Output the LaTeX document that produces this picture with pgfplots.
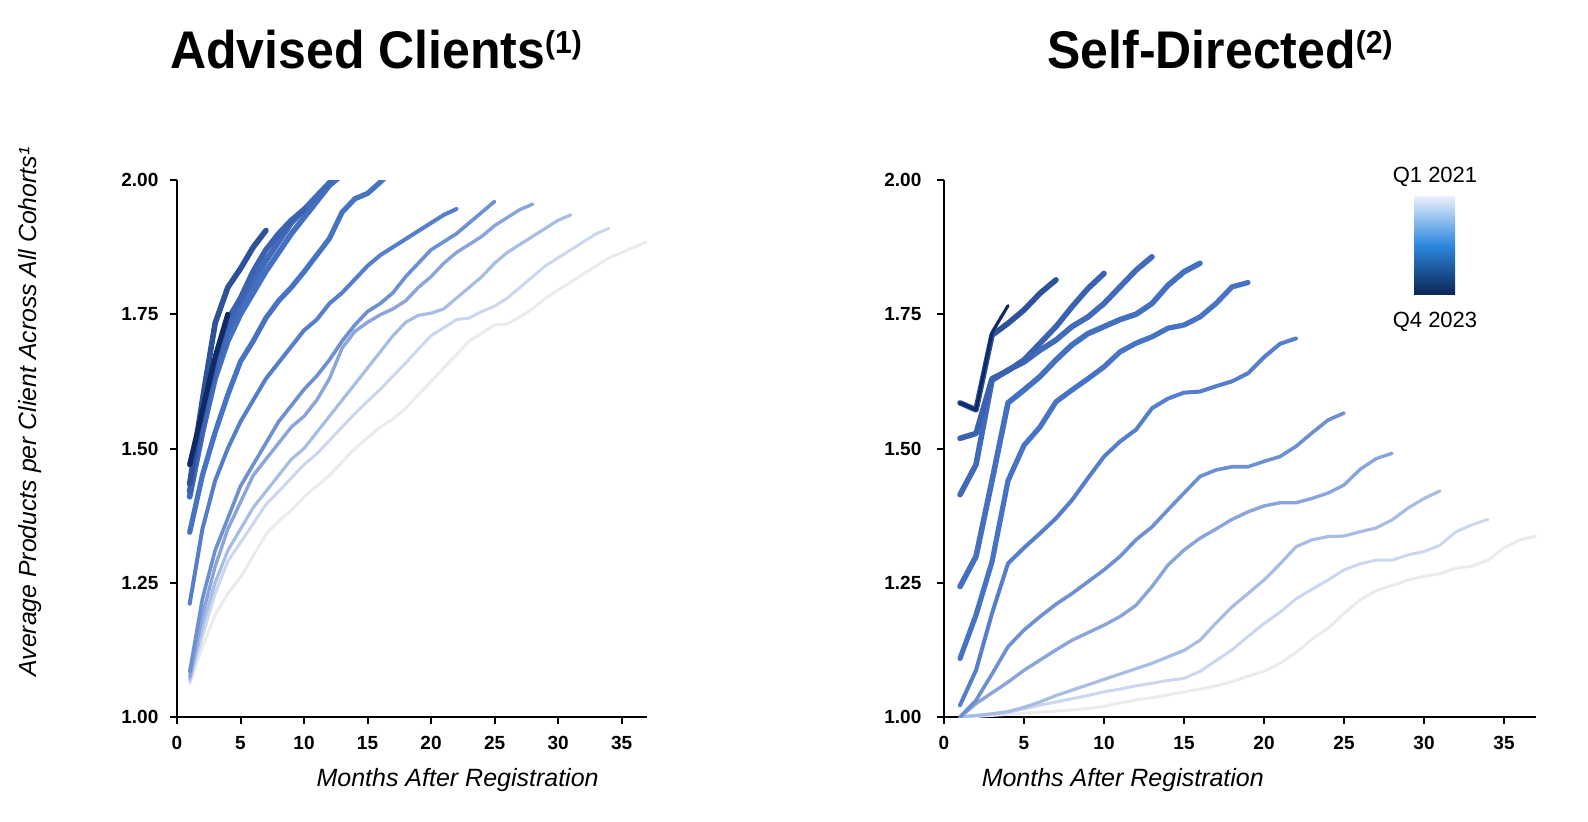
\documentclass[border=0pt]{standalone}
\usepackage{pgfplots}
\pgfplotsset{compat=1.18}
\usepackage{pgfplotstable}
\usepackage{fontspec}
\setmainfont{Liberation Sans}

% cohort colours, Q1 2021 (light) ... Q4 2023 (dark)
\definecolor{c1}{HTML}{EBEBEB}
\definecolor{c2}{HTML}{CAD7EE}
\definecolor{c3}{HTML}{A7BDE4}
\definecolor{c4}{HTML}{89A5DA}
\definecolor{c5}{HTML}{6D90D3}
\definecolor{c6}{HTML}{557ECB}
\definecolor{c7}{HTML}{4673C4}
\definecolor{c8}{HTML}{4470C1}
\definecolor{c9}{HTML}{416ABA}
\definecolor{c10}{HTML}{3B62B0}
\definecolor{c11}{HTML}{2E5299}
\definecolor{c12}{HTML}{0F2A66}
\definecolor{barTop}{HTML}{EAF1FB}
\definecolor{barMid}{HTML}{2D88DE}
\definecolor{barBot}{HTML}{0C2656}

% advised clients, one column per cohort
\pgfplotstableread{
m  c1    c2    c3    c4    c5    c6    c7    c8   c9    c10   c11   c12
1  1.062 1.065 1.07  1.075 1.084 1.211 1.344 1.42 1.41  1.42  1.434 1.47
2  1.13  1.15  1.17  1.19  1.22  1.35  1.45  1.53 1.53  1.55  1.59  1.57
3  1.19  1.23  1.25  1.28  1.31  1.44  1.53  1.63 1.64  1.66  1.733 1.67
4  1.23  1.29  1.31  1.35  1.37  1.50  1.60  1.70 1.72  1.74  1.80  1.75
5  1.26  1.325 1.35  1.40  1.43  1.55  1.662 1.75 1.77  1.78  1.835 nan
6  1.30  1.36  1.39  1.45  1.47  1.59  1.70  1.79 1.81  1.83  1.875 nan
7  1.34  1.396 1.42  1.48  1.51  1.63  1.743 1.83 1.85  1.87  1.906 nan
8  1.365 1.42  1.45  1.51  1.55  1.66  1.775 1.865 1.885 1.90 nan nan
9  1.385 1.445 1.48  1.54  1.58  1.69  1.80  1.90 1.92  1.925 nan  nan
10 1.41  1.47  1.50  1.56  1.61  1.72  1.829 1.93 1.945 1.945 nan  nan
11 1.43  1.49  1.53  1.59  1.635 1.74  1.86  1.96 1.97  nan   nan   nan
12 1.45  1.515 1.56  1.63  1.665 1.77  1.891 1.99 1.995 nan   nan   nan
13 1.475 1.54  1.59  1.687 1.70  1.79  1.94  2.01 2.02  nan   nan   nan
14 1.50  1.565 1.62  1.718 1.73  1.815 1.965 2.03 nan  nan   nan   nan
15 1.52  1.588 1.65  1.735 1.755 1.84  1.975 2.05 nan  nan   nan   nan
16 1.54  1.61  1.68  1.749 1.77  1.86  1.996 2.07 nan  nan   nan   nan
17 1.555 1.635 1.71  1.76  1.79  1.875 2.02  nan  nan  nan   nan   nan
18 1.575 1.659 1.735 1.775 1.82  1.89  2.04  nan  nan  nan   nan   nan
19 1.60  1.685 1.748 1.80  1.845 1.905 2.06  nan  nan  nan   nan   nan
20 1.625 1.71  1.752 1.82  1.87  1.92  nan   nan  nan  nan   nan   nan
21 1.65  1.725 1.76  1.845 1.885 1.935 nan   nan  nan  nan   nan   nan
22 1.675 1.74  1.78  1.865 1.90  1.946 nan   nan  nan  nan   nan   nan
23 1.70  1.743 1.80  1.88  1.92  nan   nan   nan  nan  nan   nan   nan
24 1.715 1.755 1.82  1.895 1.94  nan   nan   nan  nan  nan   nan   nan
25 1.73  1.765 1.845 1.915 1.96  nan   nan   nan  nan  nan   nan   nan
26 1.732 1.78  1.865 1.93  nan   nan   nan   nan  nan  nan   nan   nan
27 1.745 1.80  1.88  1.945 nan   nan   nan   nan  nan  nan   nan   nan
28 1.76  1.82  1.895 1.955 nan   nan   nan   nan  nan  nan   nan   nan
29 1.78  1.84  1.91  nan   nan   nan   nan   nan  nan  nan   nan   nan
30 1.795 1.855 1.925 nan   nan   nan   nan   nan  nan  nan   nan   nan
31 1.81  1.87  1.935 nan   nan   nan   nan   nan  nan  nan   nan   nan
32 1.825 1.885 nan   nan   nan   nan   nan   nan  nan  nan   nan   nan
33 1.84  1.90  nan   nan   nan   nan   nan   nan  nan  nan   nan   nan
34 1.855 1.91  nan   nan   nan   nan   nan   nan  nan  nan   nan   nan
35 1.865 nan   nan   nan   nan   nan   nan   nan  nan  nan   nan   nan
36 1.875 nan   nan   nan   nan   nan   nan   nan  nan  nan   nan   nan
37 1.885 nan   nan   nan   nan   nan   nan   nan  nan  nan   nan   nan
}\advised

% self-directed
\pgfplotstableread{
m  c1    c2    c3    c4    c5    c6    c7    c8    c9    c10   c11   c12
1  1.0   1.0   1.0   1.0   1.0   1.022 1.109 1.243 1.414 1.519 1.585 1.585
2  1.001 1.002 1.003 1.025 1.031 1.087 1.19  1.299 1.47  1.528 1.572 1.572
3  1.003 1.005 1.006 1.045 1.08  1.193 1.289 1.44  1.627 1.63  1.711 1.716
4  1.005 1.009 1.01  1.065 1.131 1.286 1.44  1.585 1.646 1.645 1.733 1.766
5  1.007 1.015 1.018 1.087 1.162 1.315 1.506 1.609 1.661 1.665 1.758 nan
6  1.009 1.022 1.028 1.106 1.187 1.342 1.54  1.634 1.683 1.696 1.789 nan
7  1.011 1.028 1.04  1.125 1.21  1.37  1.587 1.665 1.702 1.727 1.814 nan
8  1.013 1.034 1.05  1.143 1.23  1.404 1.609 1.693 1.727 1.764 nan   nan
9  1.016 1.04  1.06  1.157 1.252 1.445 1.63  1.714 1.745 1.798 nan   nan
10 1.02  1.047 1.07  1.171 1.274 1.485 1.652 1.727 1.77  1.826 nan   nan
11 1.026 1.052 1.08  1.187 1.299 1.513 1.68  1.74  1.801 nan   nan   nan
12 1.032 1.058 1.09  1.208 1.33  1.535 1.696 1.75  1.832 nan   nan   nan
13 1.036 1.063 1.10  1.243 1.354 1.575 1.708 1.77  1.857 nan   nan   nan
14 1.041 1.068 1.112 1.283 1.386 1.593 1.724 1.804 nan   nan   nan   nan
15 1.047 1.072 1.124 1.311 1.417 1.604 1.73  1.829 nan   nan   nan   nan
16 1.052 1.085 1.143 1.333 1.448 1.606 1.745 1.845 nan   nan   nan   nan
17 1.058 1.105 1.175 1.35  1.46  1.616 1.77  nan   nan   nan   nan   nan
18 1.066 1.125 1.205 1.368 1.466 1.625 1.801 nan   nan   nan   nan   nan
19 1.076 1.15  1.23  1.382 1.466 1.64  1.809 nan   nan   nan   nan   nan
20 1.085 1.174 1.255 1.393 1.476 1.67  nan   nan   nan   nan   nan   nan
21 1.10  1.195 1.285 1.399 1.485 1.695 nan   nan   nan   nan   nan   nan
22 1.12  1.22  1.317 1.399 1.504 1.705 nan   nan   nan   nan   nan   nan
23 1.145 1.238 1.33  1.407 1.529 nan   nan   nan   nan   nan   nan   nan
24 1.165 1.255 1.336 1.417 1.553 nan   nan   nan   nan   nan   nan   nan
25 1.193 1.274 1.337 1.432 1.566 nan   nan   nan   nan   nan   nan   nan
26 1.218 1.285 1.345 1.461 nan   nan   nan   nan   nan   nan   nan   nan
27 1.235 1.292 1.352 1.481 nan   nan   nan   nan   nan   nan   nan   nan
28 1.245 1.292 1.367 1.491 nan   nan   nan   nan   nan   nan   nan   nan
29 1.255 1.302 1.389 nan   nan   nan   nan   nan   nan   nan   nan   nan
30 1.262 1.308 1.407 nan   nan   nan   nan   nan   nan   nan   nan   nan
31 1.267 1.32  1.421 nan   nan   nan   nan   nan   nan   nan   nan   nan
32 1.277 1.345 nan   nan   nan   nan   nan   nan   nan   nan   nan   nan
33 1.281 1.358 nan   nan   nan   nan   nan   nan   nan   nan   nan   nan
34 1.292 1.368 nan   nan   nan   nan   nan   nan   nan   nan   nan   nan
35 1.315 nan   nan   nan   nan   nan   nan   nan   nan   nan   nan   nan
36 1.33  nan   nan   nan   nan   nan   nan   nan   nan   nan   nan   nan
37 1.337 nan   nan   nan   nan   nan   nan   nan   nan   nan   nan   nan
}\selfdir

\pgfplotsset{
  ln/.style={line join=round, line cap=round},
  s1/.style={ln, c1, line width=1.5pt},
  s2/.style={ln, c2, line width=1.5pt},
  s3/.style={ln, c3, line width=1.6pt},
  s4/.style={ln, c4, line width=1.7pt},
  s5/.style={ln, c5, line width=1.8pt},
  s6/.style={ln, c6, line width=2.0pt},
  s7/.style={ln, c7, line width=2.6pt},
  s8/.style={ln, c8, line width=2.8pt},
  s9/.style={ln, c9, line width=2.8pt},
  s10/.style={ln, c10, line width=2.8pt},
  s11/.style={ln, c11, line width=2.8pt},
  s12/.style={ln, c12, line width=2.6pt},
  panel/.style={
    scale only axis,
    height=268.5pt,
    xmin=0, xmax=37, ymin=1, ymax=2,
    axis lines=left,
    axis line style={-, line width=1.1pt, black},
    xtick={0,5,...,35},
    ytick={1,1.25,1.5,1.75,2},
    tick align=outside,
    major tick length=3.5pt,
    tick style={line width=1pt, black},
    /pgf/number format/assume math mode=true,
    ticklabel style={font=\bfseries\fontsize{9.5}{11}\selectfont},
    y tick label style={/pgf/number format/fixed,
      /pgf/number format/fixed zerofill, /pgf/number format/precision=2},
    x tick label style={yshift=-2.5pt},
    xlabel style={font=\itshape\fontsize{12.5}{14}\selectfont, anchor=center},
    ylabel style={font=\itshape\fontsize{12.4}{14}\selectfont, anchor=center},
  },
}

\begin{document}
\begin{tikzpicture}
\useasboundingbox (0,0) rectangle (794pt,410.5pt);

\node[anchor=base, font=\bfseries\fontsize{25}{28}\selectfont] at (188pt,376pt)
  {\scalebox{1}[1.06]{Advised Clients\raisebox{7.5pt}{\fontsize{15}{15}\selectfont(1)}}};
\node[anchor=base, font=\bfseries\fontsize{25}{28}\selectfont] at (610pt,376pt)
  {\scalebox{1}[1.06]{Self-Directed\raisebox{7.5pt}{\fontsize{15}{15}\selectfont(2)}}};

\begin{axis}[panel,
    at={(88.5pt,52pt)}, anchor=south west,
    width=235pt,
    y tick label style={xshift=-2.3pt},
    xlabel={Months After Registration},
    xlabel style={at={(axis description cs:0.597,-0.118)}},
    ylabel={Average Products per Client Across All Cohorts¹},
    ylabel style={at={(axis description cs:-0.312,0.568)}},
]
\pgfplotsinvokeforeach{1,...,12}{
  \addplot[s#1] table[x=m, y=c#1] {\advised};
}
\end{axis}

\begin{axis}[panel,
    at={(472pt,52pt)}, anchor=south west,
    width=296pt,
    y tick label style={xshift=-4.3pt},
    xlabel={Months After Registration},
    xlabel style={at={(axis description cs:0.302,-0.118)}},
]
\pgfplotsinvokeforeach{1,...,11}{
  \addplot[s#1] table[x=m, y=c#1] {\selfdir};
}
\addplot[s12, line width=1.6pt] table[x=m, y=c12] {\selfdir};
\end{axis}

% cohort colour key (middle color has to come after top/bottom)
\shade[top color=barTop, bottom color=barBot, middle color=barMid]
  (707pt,263.5pt) rectangle (727.5pt,312.5pt);
\node[font=\fontsize{11}{13}\selectfont] at (717.5pt,322.2pt) {Q1 2021};
\node[font=\fontsize{11}{13}\selectfont] at (717.5pt,249.6pt) {Q4 2023};
\end{tikzpicture}
\end{document}
